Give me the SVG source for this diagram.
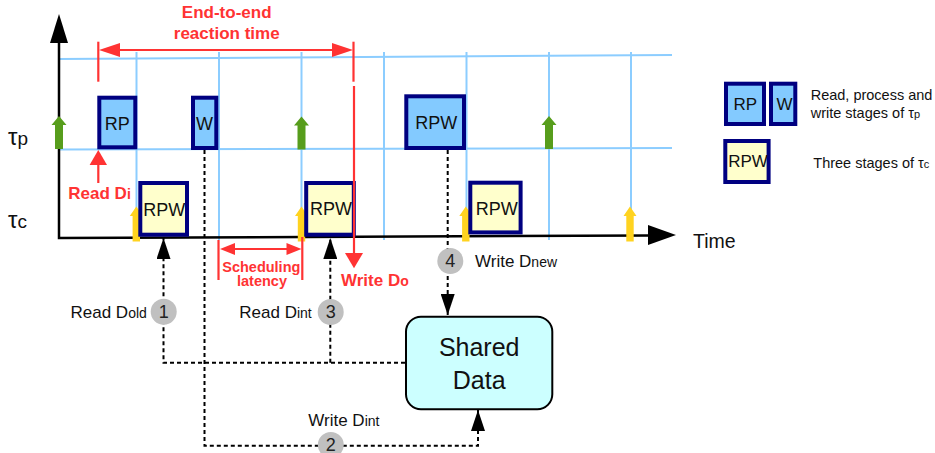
<svg xmlns="http://www.w3.org/2000/svg" width="935" height="453" viewBox="0 0 935 453">
<style>
text{font-family:"Liberation Sans",Arial,sans-serif;fill:#111}
.grid{stroke:#8ccdff;stroke-width:2;fill:none}
.axis{stroke:#000;stroke-width:2.5;fill:none}
.tp{fill:#83caff;stroke:#000080;stroke-width:4}
.tc{fill:#ffffcc;stroke:#000080;stroke-width:4}
.bt{font-size:18px;text-anchor:middle}
.red{stroke:#ff3333;stroke-width:2.2;fill:none}
.redf{fill:#ff3333}
.rt{fill:#ff3333;font-weight:bold}
.dash{stroke:#000;stroke-width:2;stroke-dasharray:4 3;fill:none}
.circ{fill:#c0c0c0}
.num{font-size:18px;text-anchor:middle;fill:#222}
.lbl{font-size:17px}
.sub{font-size:14px}
.leg{font-size:14.5px}
</style>
<defs>
<path id="garrow" d="M0,0 L7.5,9 L4,9 L4,33 L-4,33 L-4,9 L-7.5,9 Z" fill="#579d1c"/>
<path id="yarrow" d="M0,0 L6.5,9.5 L3.7,9.5 L3.7,35 L-3.7,35 L-3.7,9.5 L-6.5,9.5 Z" fill="#ffd320"/>
<marker id="ah" viewBox="0 0 21 14" refX="21" refY="7" markerWidth="21" markerHeight="14" markerUnits="userSpaceOnUse" orient="auto">
<path d="M0,0 L21,7 L0,14 Z" fill="#000"/>
</marker>
</defs>

<g id="grid">
<line class="grid" x1="59" y1="59" x2="672" y2="55"/>
<line class="grid" x1="59" y1="149.5" x2="672" y2="148"/>
<line class="grid" x1="136.5" y1="52" x2="136.5" y2="240"/>
<line class="grid" x1="219" y1="52" x2="219" y2="240"/>
<line class="grid" x1="301.5" y1="52" x2="301.5" y2="240"/>
<line class="grid" x1="384" y1="52" x2="384" y2="240"/>
<line class="grid" x1="466.5" y1="52" x2="466.5" y2="240"/>
<line class="grid" x1="549" y1="52" x2="549" y2="240"/>
<line class="grid" x1="631" y1="52" x2="631" y2="240"/>
</g>

<g id="axes">
<path class="axis" d="M59,40 L59,238 L650,235.5"/>
<polygon points="59,14 68,43 50,43" fill="#000"/>
<polygon points="676,235 648,225 648,245" fill="#000"/>
<text x="8" y="145" font-size="24">τ<tspan font-size="19">p</tspan></text>
<text x="8" y="228" font-size="24">τ<tspan font-size="19">c</tspan></text>
<text x="693" y="248.3" font-size="19.5">Time</text>
</g>

<g id="releases">
<use href="#garrow" x="59" y="116"/>
<use href="#garrow" x="301.5" y="116.5"/>
<use href="#garrow" x="549" y="116"/>
<use href="#yarrow" x="136.3" y="206.5"/>
<use href="#yarrow" x="301.5" y="206.5"/>
<use href="#yarrow" x="465.8" y="206.5"/>
<use href="#yarrow" x="630" y="206.5"/>
</g>

<g id="connectors">
<path class="dash" d="M405,362.7 H163.5 V238" marker-end="url(#ah)"/>
<path class="dash" d="M330.3,362.7 V238" marker-end="url(#ah)"/>
<path class="dash" d="M204.5,150 V445.7 H478 V410" marker-end="url(#ah)"/>
<path class="dash" d="M447.7,150 V315" marker-end="url(#ah)"/>
</g>

<g id="rp1"><rect class="tp" x="99.3" y="97.7" width="36" height="49.6"/><text class="bt" x="117.3" y="130">RP</text></g>
<g id="w1"><rect class="tp" x="193" y="97.7" width="23.3" height="50.3"/><text class="bt" x="204.6" y="130">W</text></g>
<g id="rpw_c1"><rect class="tc" x="140.3" y="183" width="46.7" height="51.7"/><text class="bt" x="164.3" y="215.7">RPW</text></g>
<g id="rpw_c2"><rect class="tc" x="306.2" y="183" width="47.6" height="51.7"/><text class="bt" x="331" y="215">RPW</text></g>
<g id="rpw_p"><rect class="tp" x="406.3" y="96.3" width="57.7" height="51.7"/><text class="bt" x="436.3" y="129.3">RPW</text></g>
<g id="rpw_c3"><rect class="tc" x="470.3" y="182.7" width="50.3" height="49.7"/><text class="bt" x="496.7" y="215">RPW</text></g>

<g id="shared">
<rect x="406" y="316.7" width="146.3" height="92.6" rx="15" fill="#ccffff" stroke="#000" stroke-width="2"/>
<text x="479.2" y="355.7" font-size="25" text-anchor="middle">Shared</text>
<text x="479.2" y="389" font-size="25" text-anchor="middle">Data</text>
</g>

<g id="steps">
<circle class="circ" cx="163.7" cy="311.7" r="13"/><text class="num" x="163.7" y="318">1</text>
<circle class="circ" cx="330.8" cy="445" r="13"/><text class="num" x="330.8" y="451.3">2</text>
<circle class="circ" cx="330.7" cy="312" r="13"/><text class="num" x="330.7" y="318.3">3</text>
<circle class="circ" cx="450.3" cy="261" r="13"/><text class="num" x="450.3" y="267.3">4</text>
<text class="lbl" x="70.5" y="318.3">Read D<tspan class="sub">old</tspan></text>
<text class="lbl" x="239.3" y="318.3">Read D<tspan class="sub">int</tspan></text>
<text class="lbl" x="308.3" y="425.7">Write D<tspan class="sub">int</tspan></text>
<text class="lbl" x="475" y="266.7">Write D<tspan class="sub">new</tspan></text>
</g>

<g id="timing">
<line class="red" x1="98.3" y1="41.7" x2="98.3" y2="81.7"/>
<line class="red" x1="353.5" y1="41.7" x2="353.5" y2="81.7"/>
<line class="red" x1="118" y1="50" x2="335" y2="50"/>
<polygon class="redf" points="99,50 120,43 120,57"/>
<polygon class="redf" points="353,50 332,43 332,57"/>
<text class="rt" x="226.7" y="18.3" font-size="17" text-anchor="middle">End-to-end</text>
<text class="rt" x="226.7" y="39.3" font-size="17" text-anchor="middle">reaction time</text>
<line class="red" x1="98.3" y1="163" x2="98.3" y2="183"/>
<polygon class="redf" points="98.3,150 107,165 89.6,165"/>
<text class="rt" x="68.3" y="199.3" font-size="17">Read D<tspan font-size="14">i</tspan></text>
<line class="red" x1="354" y1="86" x2="354" y2="255"/>
<polygon class="redf" points="354,268.3 345,253 363,253"/>
<text class="rt" x="341" y="286" font-size="17">Write D<tspan font-size="14">o</tspan></text>
<line class="red" x1="218.5" y1="240" x2="218.5" y2="280"/>
<line class="red" x1="302.3" y1="237" x2="302.3" y2="280"/>
<line class="red" x1="232" y1="249" x2="288" y2="249"/>
<polygon class="redf" points="220,249 235,243 235,255"/>
<polygon class="redf" points="301.5,249 286.5,243 286.5,255"/>
<text class="rt" x="261.3" y="271.7" font-size="14.5" text-anchor="middle">Scheduling</text>
<text class="rt" x="262" y="285.5" font-size="14.5" text-anchor="middle">latency</text>
</g>

<g id="legend">
<rect class="tp" x="726" y="83.7" width="38" height="40.3"/><text x="745.3" y="110" font-size="17" text-anchor="middle">RP</text>
<rect class="tp" x="771" y="83.7" width="24.3" height="40.3"/><text x="784.6" y="110" font-size="17" text-anchor="middle">W</text>
<rect class="tc" x="725.3" y="141" width="43.3" height="41"/><text x="748" y="167.3" font-size="17" text-anchor="middle">RPW</text>
<text class="leg" x="810.7" y="100">Read, process and</text>
<text class="leg" x="810.7" y="118.3">write stages of τ<tspan font-size="11">p</tspan></text>
<text class="leg" x="813.3" y="168.3">Three stages of τ<tspan font-size="11">c</tspan></text>
</g>
</svg>
